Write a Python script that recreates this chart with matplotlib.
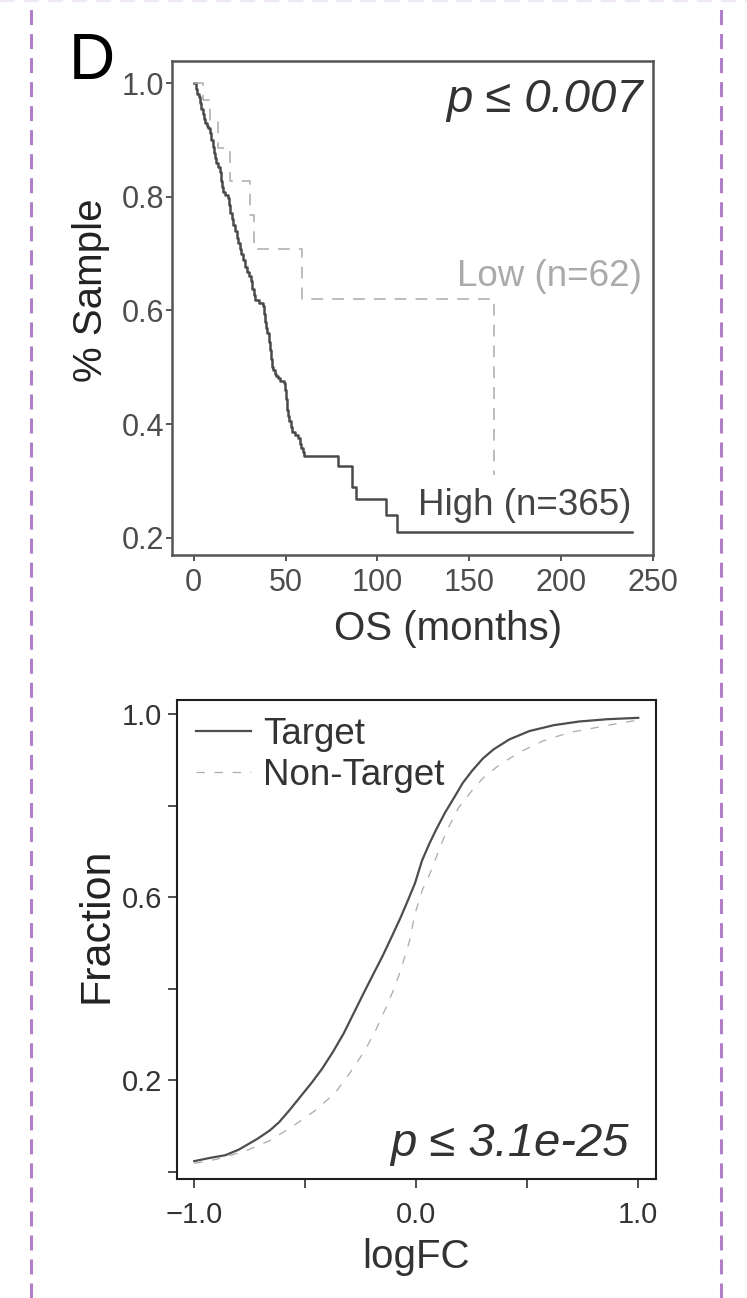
import matplotlib
matplotlib.use('Agg')
import matplotlib.pyplot as plt
from matplotlib.lines import Line2D

plt.rcParams['font.family'] = ['Liberation Sans', 'DejaVu Sans']
plt.rcParams['lines.scale_dashes'] = False

# survival curves (months, fraction surviving)
high_t = [0, 1, 2, 2.8, 3.4, 4.2, 5, 5.6, 6.2, 7, 8, 8.9, 9.6, 10.3, 11, 11.6, 12.4,
          13.3, 14.3, 15, 15.6, 16.2, 17.3, 18.5, 19.2, 20, 20.8, 21.6, 22.5, 23.4,
          24.3, 25.1, 26, 27, 28, 29, 30, 31.1, 32, 32.7, 33.4, 35.5, 37.6, 38.3, 39,
          39.5, 40.1, 40.8, 41.5, 42, 42.5, 43.2, 44, 45, 45.8, 47, 49.2, 49.7, 50.2,
          50.7, 51.3, 52, 52.7, 53.4, 55, 57, 57.8, 58.5, 59.3, 60.1, 78.7, 86.2,
          88.2, 104.7, 110.5, 238.8]
high_s = [1.0, 0.99, 0.98, 0.975, 0.965, 0.955, 0.945, 0.937, 0.929, 0.925, 0.921,
          0.912, 0.900, 0.888, 0.877, 0.868, 0.860, 0.852, 0.843, 0.828, 0.818, 0.809,
          0.803, 0.797, 0.785, 0.771, 0.760, 0.750, 0.739, 0.728, 0.718, 0.708, 0.699,
          0.688, 0.677, 0.668, 0.660, 0.651, 0.638, 0.628, 0.618, 0.613, 0.607, 0.594,
          0.580, 0.570, 0.560, 0.545, 0.530, 0.515, 0.501, 0.495, 0.489, 0.485, 0.481,
          0.476, 0.472, 0.460, 0.445, 0.425, 0.415, 0.405, 0.395, 0.387, 0.381, 0.375,
          0.366, 0.358, 0.351, 0.344, 0.326, 0.29, 0.268, 0.24, 0.21, 0.21]
low_t = [0, 5, 9, 13.5, 19.7, 30.5, 32.9, 59, 163.4]
low_s = [1.0, 0.97, 0.935, 0.885, 0.828, 0.768, 0.708, 0.62, 0.31]

# cumulative fraction vs logFC
target_x = [-1.0, -0.93, -0.86, -0.80, -0.715, -0.66, -0.618, -0.57, -0.52, -0.47,
            -0.424, -0.375, -0.327, -0.28, -0.231, -0.19, -0.151, -0.11, -0.07,
            -0.035, -0.006, 0.026, 0.06, 0.09, 0.13, 0.171, 0.21, 0.251, 0.30, 0.348,
            0.42, 0.509, 0.62, 0.734, 0.86, 1.0]
target_y = [0.023, 0.030, 0.036, 0.048, 0.072, 0.090, 0.108, 0.135, 0.165, 0.195,
            0.225, 0.262, 0.302, 0.348, 0.396, 0.435, 0.472, 0.514, 0.556, 0.596,
            0.630, 0.680, 0.718, 0.748, 0.785, 0.818, 0.850, 0.876, 0.903, 0.923,
            0.945, 0.963, 0.976, 0.984, 0.989, 0.992]
non_x = [-1.0, -0.9, -0.77, -0.66, -0.56, -0.46, -0.367, -0.30, -0.231, -0.18, -0.135,
         -0.10, -0.07, -0.03, -0.006, 0.026, 0.056, 0.10, 0.137, 0.19, 0.251, 0.31,
         0.38, 0.47, 0.573, 0.69, 0.814, 0.91, 1.0]
non_y = [0.018, 0.027, 0.045, 0.068, 0.098, 0.132, 0.171, 0.215, 0.265, 0.312, 0.36,
         0.40, 0.44, 0.505, 0.563, 0.614, 0.645, 0.700, 0.745, 0.795, 0.833, 0.865,
         0.891, 0.918, 0.942, 0.960, 0.971, 0.980, 0.987]

W, H = 747, 1298
fig = plt.figure(figsize=(W / 100, H / 100), dpi=100)


def box(l, t, r, b):
    return [l / W, 1 - b / H, (r - l) / W, (b - t) / H]


# ---- top: Kaplan-Meier ----
ax1 = fig.add_axes(box(172, 61, 653, 555))
ax1.step(high_t, high_s, where='post', color='#4a4a4a', lw=1.8)
ax1.step(low_t, low_s, where='post', color='#ababab', lw=1.1, dashes=(8.5, 6.5))
ax1.set_xlim(-11.8, 250)
ax1.set_ylim(0.170, 1.0387)
ax1.set_xticks([0, 50, 100, 150, 200, 250])
ax1.set_yticks([0.2, 0.4, 0.6, 0.8, 1.0])
ax1.set_yticklabels(['0.2', '0.4', '0.6', '0.8', '1.0'])
for s in ax1.spines.values():
    s.set_color('#555555')
    s.set_linewidth(1.8)
ax1.tick_params(direction='out', length=4, width=1.4, color='#555555',
                labelcolor='#4d4d4d', labelsize=22)
ax1.tick_params(axis='x', pad=5)
ax1.tick_params(axis='y', pad=1.5)
ax1.set_xlabel('OS (months)', fontsize=29, color='#333333')
ax1.xaxis.set_label_coords(0.574, -0.111)
ax1.set_ylabel('% Sample', fontsize=29, color='#222222')
ax1.yaxis.set_label_coords(-0.128, 0.536)
ax1.text(0.979, 0.897, 'p \u2264 0.007', transform=ax1.transAxes, ha='right',
         va='baseline', fontsize=34, style='italic', color='#333333')
ax1.text(0.976, 0.545, 'Low (n=62)', transform=ax1.transAxes, ha='right',
         va='baseline', fontsize=26.5, color='#aaaaaa')
ax1.text(0.955, 0.08, 'High (n=365)', transform=ax1.transAxes, ha='right',
         va='baseline', fontsize=26.5, color='#444444')

# ---- bottom: cumulative distribution ----
ax2 = fig.add_axes(box(176.7, 700, 656, 1179))
ax2.plot(target_x, target_y, color='#4d4d4d', lw=1.6, label='Target')
ax2.plot(non_x, non_y, color='#aaaaaa', lw=0.9, dashes=(6, 7), label='Non-Target')
ax2.set_xlim(-1.079, 1.08)
ax2.set_ylim(-0.016, 1.031)
ax2.set_xticks([-1.0, -0.5, 0.0, 0.5, 1.0])
ax2.set_xticklabels(['\u22121.0', '', '0.0', '', '1.0'])
ax2.set_yticks([0.0, 0.2, 0.4, 0.6, 0.8, 1.0])
ax2.set_yticklabels(['', '0.2', '', '0.6', '', '1.0'])
for s in ax2.spines.values():
    s.set_color('#1e1e1e')
    s.set_linewidth(1.5)
ax2.tick_params(direction='out', length=6.5, width=1.1, color='#1e1e1e',
                labelcolor='#333333', labelsize=21)
ax2.tick_params(axis='x', pad=9)
ax2.tick_params(axis='y', pad=4)
ax2.set_xlabel('logFC', fontsize=29, color='#333333')
ax2.xaxis.set_label_coords(0.5, -0.123)
ax2.set_ylabel('Fraction', fontsize=31, color='#222222')
ax2.yaxis.set_label_coords(-0.125, 0.53)
ax2.legend(loc='upper left', bbox_to_anchor=(0.01, 0.995), frameon=False,
           fontsize=26.5, handlelength=1.5, handletextpad=0.32, labelspacing=0.15,
           borderaxespad=0.0, labelcolor='#333333')
ax2.text(0.942, 0.048, 'p \u2264 3.1e-25', transform=ax2.transAxes, ha='right',
         va='baseline', fontsize=34, style='italic', color='#333333')

# panel letter and dashed panel border
fig.text(69 / W, 1 - 79 / H, 'D', fontsize=46, ha='left', va='baseline')
for xp in (31, 720.5):
    fig.add_artist(Line2D([xp / W, xp / W], [0, 1 - 8 / H], transform=fig.transFigure,
                          color='#b27ec8', lw=2.2, dashes=(10.8, 6.5)))
fig.add_artist(Line2D([0, 1], [1 - 1 / H, 1 - 1 / H], transform=fig.transFigure,
                      color='#f1e8f5', lw=1.5, dashes=(10.8, 6.5)))

fig.savefig('out.png', dpi=100)
